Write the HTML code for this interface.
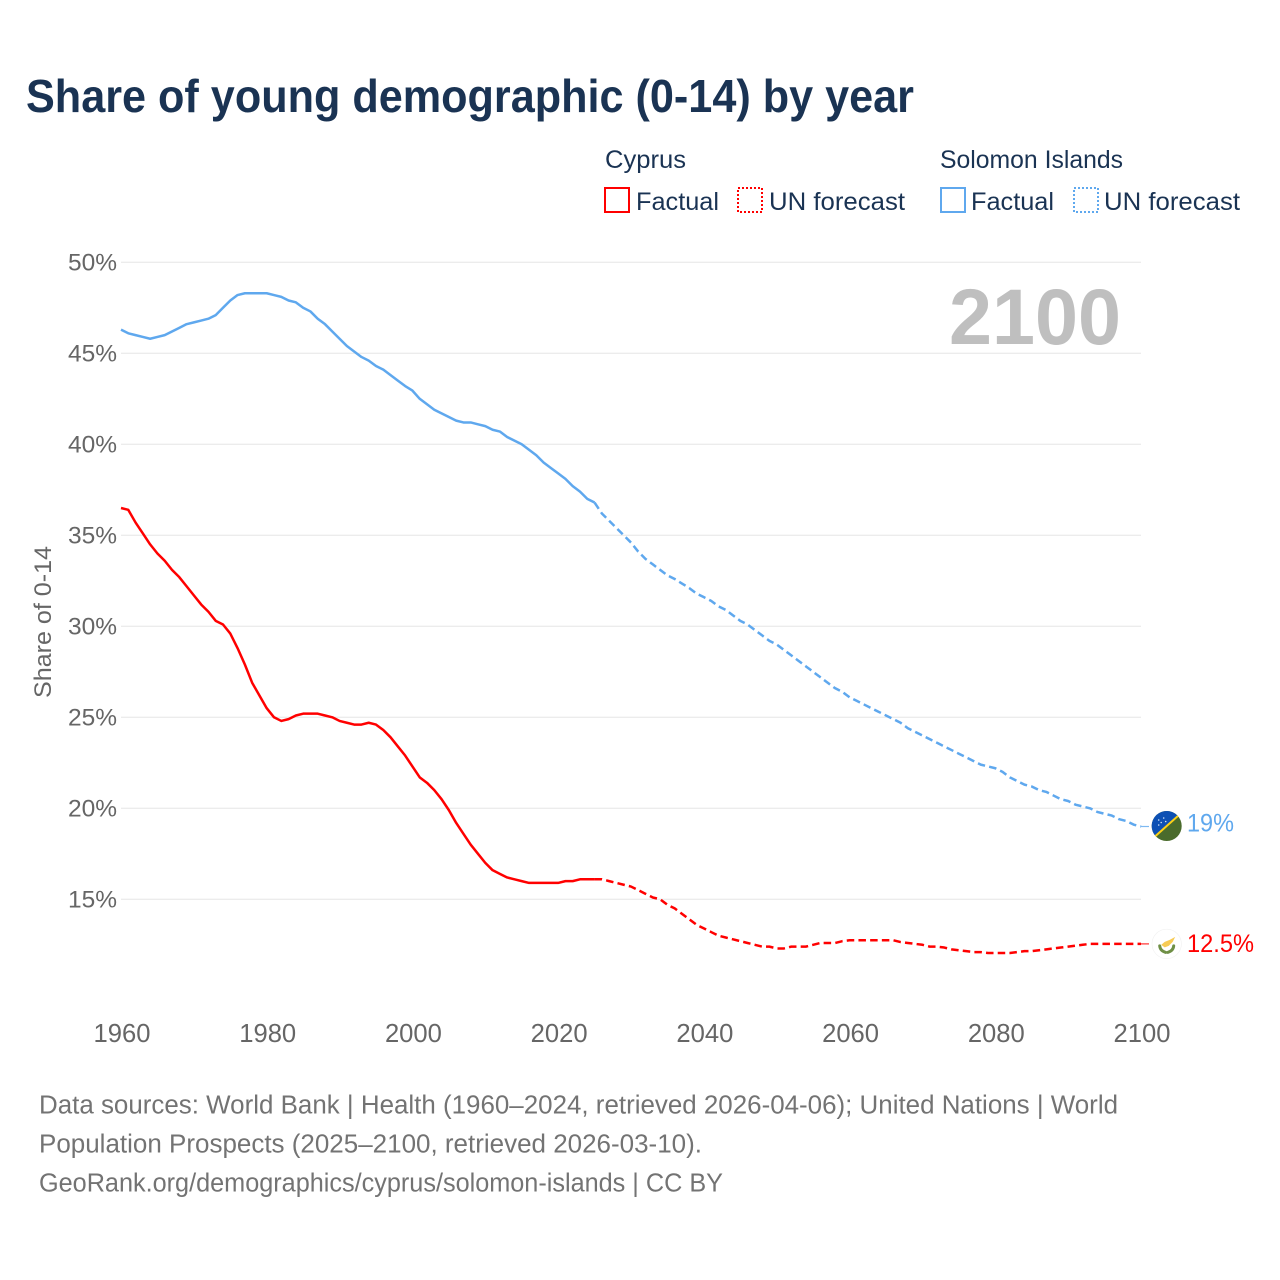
<!DOCTYPE html>
<html lang="en">
<head>
<meta charset="utf-8">
<title>Share of young demographic (0-14) by year</title>
<style>
html,body{margin:0;padding:0;background:#fff;}
svg{display:block;font-family:"Liberation Sans",sans-serif;}
</style>
</head>
<body>
<svg id="chart" xmlns="http://www.w3.org/2000/svg" width="1280" height="1280" viewBox="0 0 1280 1280">
  <rect x="0" y="0" width="1280" height="1280" fill="#fff"/>
  <text x="26" y="112" font-size="46" font-weight="700" fill="#1a3353" textLength="888" lengthAdjust="spacingAndGlyphs">Share of young demographic (0-14) by year</text>

  <g font-size="25" fill="#1a3353">
    <text x="605" y="168" textLength="81" lengthAdjust="spacingAndGlyphs">Cyprus</text>
    <text x="940" y="168" textLength="183" lengthAdjust="spacingAndGlyphs">Solomon Islands</text>
    <rect x="605" y="188" width="24" height="24" fill="none" stroke="#ff0000" stroke-width="2"/>
    <text x="636" y="210" textLength="83" lengthAdjust="spacingAndGlyphs">Factual</text>
    <rect x="738" y="188" width="24" height="24" fill="none" stroke="#ff0000" stroke-width="2" stroke-dasharray="2 2"/>
    <text x="769" y="210" textLength="136" lengthAdjust="spacingAndGlyphs">UN forecast</text>
    <rect x="941" y="188" width="24" height="24" fill="none" stroke="#5fa8ee" stroke-width="2"/>
    <text x="971" y="210" textLength="83" lengthAdjust="spacingAndGlyphs">Factual</text>
    <rect x="1074" y="188" width="24" height="24" fill="none" stroke="#5fa8ee" stroke-width="2" stroke-dasharray="2 2"/>
    <text x="1104" y="210" textLength="136" lengthAdjust="spacingAndGlyphs">UN forecast</text>
  </g>

  <g id="grid"></g>
  <g id="yticks" font-size="24.5" fill="#666" text-anchor="end"></g>
  <g id="xticks" font-size="25.6" fill="#666" text-anchor="middle"></g>

  <text transform="translate(51 622) rotate(-90)" text-anchor="middle" font-size="24.5" fill="#666" textLength="152" lengthAdjust="spacingAndGlyphs">Share of 0-14</text>
  <text x="949" y="344" font-size="79" font-weight="700" fill="#bfbfbf" textLength="172" lengthAdjust="spacingAndGlyphs">2100</text>

  <g id="series"></g>
  <g id="endmarks"></g>

  <g font-size="25.5" fill="#737373">
    <text x="39" y="1113.5" textLength="1079" lengthAdjust="spacingAndGlyphs">Data sources: World Bank | Health (1960–2024, retrieved 2026-04-06); United Nations | World</text>
    <text x="39" y="1152.5" textLength="663" lengthAdjust="spacingAndGlyphs">Population Prospects (2025–2100, retrieved 2026-03-10).</text>
    <text x="39" y="1191.5" textLength="684" lengthAdjust="spacingAndGlyphs">GeoRank.org/demographics/cyprus/solomon-islands | CC BY</text>
  </g>
</svg>

<script>
const startYear = 1960;
const forecastStartYear = 2025;
const xTickYears = [1960, 1980, 2000, 2020, 2040, 2060, 2080, 2100];
const yTickValues = [15, 20, 25, 30, 35, 40, 45, 50];
const endLabels = ["19%", "12.5%"];

const cyprusFactual = [
  36.5,36.4,35.7,35.1,34.5,34.0,33.6,33.1,32.7,32.2,
  31.7,31.2,30.8,30.3,30.1,29.6,28.8,27.9,26.9,26.2,
  25.5,25.0,24.8,24.9,25.1,25.2,25.2,25.2,25.1,25.0,
  24.8,24.7,24.6,24.6,24.7,24.6,24.3,23.9,23.4,22.9,
  22.3,21.7,21.4,21.0,20.5,19.9,19.2,18.6,18.0,17.5,
  17.0,16.6,16.4,16.2,16.1,16.0,15.9,15.9,15.9,15.9,
  15.9,16.0,16.0,16.1,16.1,16.1
];
const cyprusForecast = [
  16.1,16.1,16.0,15.9,15.8,15.7,
  15.5,15.3,15.1,15.0,14.7,
  14.5,14.2,13.9,13.6,13.4,
  13.2,13.0,12.9,12.8,12.7,
  12.6,12.5,12.4,12.4,12.3,
  12.3,12.4,12.4,12.4,12.5,
  12.6,12.6,12.6,12.7,12.75,
  12.75,12.75,12.75,12.75,12.75,
  12.75,12.65,12.6,12.55,12.5,
  12.4,12.4,12.35,12.25,12.2,
  12.15,12.1,12.1,12.05,12.05,
  12.05,12.05,12.1,12.15,12.15,
  12.2,12.25,12.3,12.35,12.4,
  12.45,12.5,12.55,12.55,12.55,
  12.55,12.55,12.55,12.55,12.55
];
const solomonFactual = [
  46.3,46.1,46.0,45.9,45.8,45.9,46.0,46.2,46.4,46.6,
  46.7,46.8,46.9,47.1,47.5,47.9,48.2,48.3,48.3,48.3,
  48.3,48.2,48.1,47.9,47.8,47.5,47.3,46.9,46.6,46.2,
  45.8,45.4,45.1,44.8,44.6,44.3,44.1,43.8,43.5,43.2,
  42.95,42.5,42.2,41.9,41.7,41.5,41.3,41.2,41.2,41.1,
  41.0,40.8,40.7,40.4,40.2,40.0,39.7,39.4,39.0,38.7,
  38.4,38.1,37.7,37.4,37.0,36.8
];
const solomonForecast = [
  36.8,36.2,35.8,35.4,35.0,34.6,
  34.1,33.7,33.4,33.1,32.8,
  32.6,32.35,32.1,31.8,31.6,
  31.4,31.1,30.9,30.6,30.3,
  30.1,29.8,29.5,29.2,29.0,
  28.7,28.4,28.1,27.8,27.5,
  27.2,26.9,26.6,26.4,26.1,
  25.9,25.7,25.5,25.3,25.1,
  24.9,24.7,24.4,24.2,24.0,
  23.8,23.6,23.4,23.2,23.0,
  22.8,22.6,22.4,22.3,22.2,
  22.0,21.7,21.5,21.3,21.2,
  21.0,20.9,20.7,20.5,20.4,
  20.2,20.1,20.0,19.8,19.7,
  19.6,19.4,19.3,19.1,19.0
];

const NS = "http://www.w3.org/2000/svg";
const RED = "#ff0000";
const BLUE = "#5fa8ee";
function xScale(year){ return 121 + (year - 1960) * (1020 / 140); }
function yScale(v){ return 262.3 + (50 - v) * 18.2; }
function make(tag, parent){
  const el = document.createElementNS(NS, tag);
  parent.appendChild(el);
  return el;
}
function linePath(values, firstYear){
  return values.map(function(v, i){
    return (i ? "L" : "M") + xScale(firstYear + i).toFixed(2) + " " + yScale(v).toFixed(2);
  }).join("");
}

const gridGroup = document.getElementById("grid");
const yTickGroup = document.getElementById("yticks");
yTickValues.forEach(function(v){
  const line = make("line", gridGroup);
  
  
  line.setAttribute("x1", xScale(1960));
  line.setAttribute("x2", xScale(2100));
  line.setAttribute("y1", yScale(v));
  line.setAttribute("y2", yScale(v));
  line.setAttribute("stroke", "#e6e6e6");
  line.setAttribute("stroke-width", "1");
  const label = make("text", yTickGroup);
  
  
  label.setAttribute("x", 117);
  label.setAttribute("y", yScale(v) + 8);
  label.textContent = v + "%";
});

const xTickGroup = document.getElementById("xticks");
xTickYears.forEach(function(yr){
  const label = make("text", xTickGroup);
  
  
  label.setAttribute("x", xScale(yr) + 1);
  label.setAttribute("y", 1042);
  label.textContent = yr;
});

const seriesGroup = document.getElementById("series");
function drawLine(values, firstYear, color, dashed, name){
  const p = make("path", seriesGroup);
  
  
  p.setAttribute("d", linePath(values, firstYear));
  p.setAttribute("fill", "none");
  p.setAttribute("stroke", color);
  p.setAttribute("stroke-width", "2.5");
  p.setAttribute("stroke-linejoin", "round");
  if (dashed) p.setAttribute("stroke-dasharray", "7.5 4.2");
}
drawLine(solomonFactual, startYear, BLUE, false, "line-solomon-factual");
drawLine(solomonForecast, forecastStartYear, BLUE, true, "line-solomon-forecast");
drawLine(cyprusFactual, startYear, RED, false, "line-cyprus-factual");
drawLine(cyprusForecast, forecastStartYear, RED, true, "line-cyprus-forecast");

const endGroup = document.getElementById("endmarks");
const solomonEnd = solomonForecast[solomonForecast.length - 1];
const cyprusEnd = cyprusForecast[cyprusForecast.length - 1];
const endX = xScale(2100);

function connector(v, color, name){
  const c = make("line", endGroup);
  
  
  c.setAttribute("x1", endX);
  c.setAttribute("x2", endX + 8);
  c.setAttribute("y1", yScale(v));
  c.setAttribute("y2", yScale(v));
  c.setAttribute("stroke", color);
  c.setAttribute("stroke-width", "1.2");
  c.setAttribute("opacity", "0.8");
}
connector(solomonEnd, BLUE, "connector-solomon");
connector(cyprusEnd, RED, "connector-cyprus");

function endLabel(text, v, color, name, dy, width){
  const t = make("text", endGroup);
  
  
  t.setAttribute("x", 1187);
  t.setAttribute("y", yScale(v) + dy);
  t.setAttribute("font-size", "25");
  t.setAttribute("fill", color);
  t.setAttribute("textLength", width);
  t.setAttribute("lengthAdjust", "spacingAndGlyphs");
  t.textContent = text;
}
endLabel(endLabels[0], solomonEnd, BLUE, "end-label-solomon", 5, 47);
endLabel(endLabels[1], cyprusEnd, RED, "end-label-cyprus", 8, 67);

/* Solomon Islands flag marker */
const solomonFlag = make("g", endGroup);


solomonFlag.setAttribute("transform", "translate(1166.7 " + (yScale(solomonEnd) - 0.5) + ")");
solomonFlag.innerHTML =
  '<circle r="15" fill="#4a6b2c"/>' +
  '<path d="M-11.2 10 A15 15 0 0 1 11.2 -10 Z" fill="#0d50b4"/>' +
  '<line x1="-11.2" y1="10" x2="11.2" y2="-10" stroke="#fcd116" stroke-width="2"/>' +
  '<g fill="#cfe0f5"><circle cx="-8" cy="-6" r="0.8"/><circle cx="-3" cy="-8" r="0.8"/><circle cx="-5.5" cy="-3.5" r="0.8"/><circle cx="-1" cy="-4.5" r="0.8"/><circle cx="-8" cy="-1" r="0.8"/></g>';

/* Cyprus flag marker */
const cyprusFlag = make("g", endGroup);


cyprusFlag.setAttribute("transform", "translate(1166.7 " + yScale(cyprusEnd) + ")");
cyprusFlag.innerHTML =
  '<circle r="14.7" fill="#fff" stroke="#f1f1f1" stroke-width="0.6"/>' +
  '<path d="M-5.5 1 L-2 -2 L3 -4 L8.5 -7 L6 -2 L2 2 L-2 3.5 Z" fill="#f7cb55"/>' +
  '<path d="M-7 2 Q-6.5 7 -1 8.5 M7 2 Q6.5 7 1 8.5" fill="none" stroke="#6f8f45" stroke-width="3" stroke-linecap="round"/>';
</script>
</body>
</html>
